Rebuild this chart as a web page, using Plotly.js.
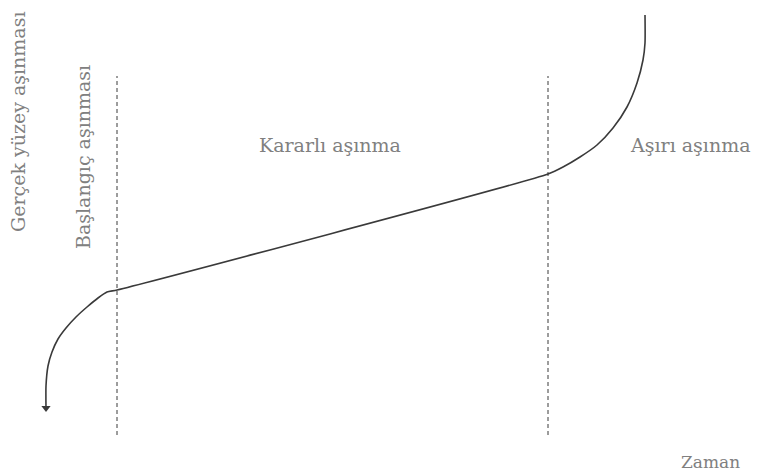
<!DOCTYPE html>
<html>
<head>
<meta charset="utf-8">
<script src="https://cdn.plot.ly/plotly-3.0.1.min.js"></script>
<style>
  html, body { margin: 0; padding: 0; background: #fff; }
  #chart { width: 759px; height: 476px; }
</style>
</head>
<body>
<div id="chart"></div>
<script>
// wear curve (time vs. wear, arbitrary units)
const timeVals = [46, 46, 48, 52, 58, 66, 76, 87, 98, 107, 117, 548, 563, 580, 597, 613, 627, 637, 643, 645, 645];
const wearVals = [68, 90, 110, 124, 137, 148, 159, 169, 178, 184, 186, 302, 309, 319, 331, 348, 369, 393, 416, 433, 461];

// stage boundaries
const boundaryTimes = [117, 548];
const boundaryWear = [41, 400];

const stageLabels = ["Kararlı aşınma", "Aşırı aşınma"];
const stageLabelTimes = [330, 690];
const stageLabelWear = 331;

const axisTitleY = "Gerçek yüzey aşınması";
const firstStageLabel = "Başlangıç aşınması";
const axisTitleX = "Zaman";

const ink = "#3a3a3a";
const textCol = "#808080";
const serif = "DejaVu Serif, Liberation Serif, serif";

const traces = [
  {
    type: "scatter", mode: "lines",
    x: timeVals, y: wearVals,
    line: { color: ink, width: 1.6, shape: "spline", smoothing: 0.6 },
    hoverinfo: "skip",
  },
  {
    type: "scatter", mode: "markers",
    x: [timeVals[0]], y: [wearVals[0]],
    marker: { symbol: "triangle-down", size: 8, color: ink },
    hoverinfo: "skip",
  },
];
boundaryTimes.forEach((t) => {
  traces.push({
    type: "scatter", mode: "lines",
    x: [t, t], y: boundaryWear,
    line: { color: ink, width: 1, dash: "4px,3px" },
    hoverinfo: "skip",
  });
});

const annotations = stageLabels.map((s, i) => ({
  x: stageLabelTimes[i], y: stageLabelWear, text: s, showarrow: false,
  font: { family: serif, size: 19, color: textCol },
}));
annotations.push(
  { x: 18, y: 354, text: axisTitleY, textangle: -90, showarrow: false,
    font: { family: serif, size: 19, color: textCol } },
  { x: 83, y: 319, text: firstStageLabel, textangle: -90, showarrow: false,
    font: { family: serif, size: 19, color: textCol } },
  { x: 710, y: 14, text: axisTitleX, showarrow: false,
    font: { family: serif, size: 17, color: textCol } }
);

Plotly.newPlot("chart", traces, {
  width: 759, height: 476,
  margin: { l: 0, r: 0, t: 0, b: 0 },
  paper_bgcolor: "#fff", plot_bgcolor: "#fff",
  showlegend: false,
  xaxis: { range: [0, 759], visible: false, fixedrange: true },
  yaxis: { range: [0, 476], visible: false, fixedrange: true },
  annotations: annotations,
}, { staticPlot: true });
</script>
</body>
</html>
